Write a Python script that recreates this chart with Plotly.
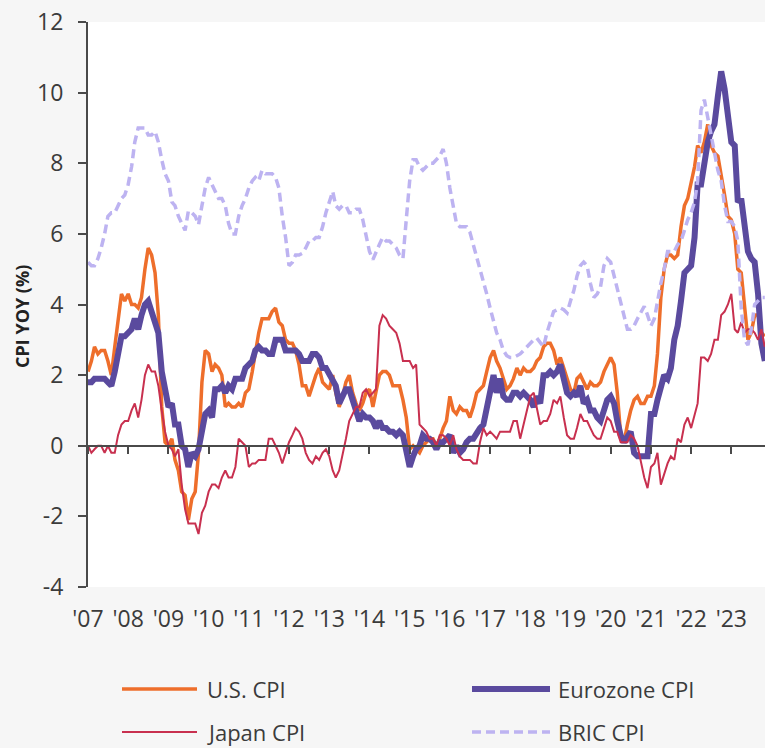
import plotly.graph_objects as go
import pandas as pd

# ---------------- data (monthly, Jan 2007 - Nov 2023) ----------------
us_cpi = [
    2.1, 2.4, 2.8, 2.6, 2.7, 2.7, 2.4, 2.0, 2.8, 3.5, 4.3, 4.1,
    4.3, 4.0, 4.0, 3.9, 4.2, 5.0, 5.6, 5.4, 4.9, 3.7, 1.1, 0.1,
    0.0, 0.2, -0.4, -0.7, -1.3, -1.4, -2.1, -1.5, -1.3, -0.2, 1.8, 2.7,
    2.6, 2.1, 2.3, 2.2, 2.0, 1.1, 1.2, 1.1, 1.1, 1.2, 1.1, 1.5,
    1.6, 2.1, 2.7, 3.2, 3.6, 3.6, 3.6, 3.8, 3.9, 3.5, 3.4, 3.0,
    2.9, 2.9, 2.7, 2.3, 1.7, 1.7, 1.4, 1.7, 2.0, 2.2, 1.8, 1.7,
    1.6, 2.0, 1.5, 1.1, 1.4, 1.8, 2.0, 1.5, 1.2, 1.0, 1.2, 1.5,
    1.6, 1.1, 1.5, 2.0, 2.1, 2.1, 2.0, 1.7, 1.7, 1.7, 1.3, 0.8,
    -0.1, 0.0, -0.1, -0.2, 0.0, 0.1, 0.2, 0.2, 0.0, 0.2, 0.5, 0.7,
    1.4, 1.0, 0.9, 1.1, 1.0, 1.0, 0.8, 1.1, 1.5, 1.6, 1.7, 2.1,
    2.5, 2.7, 2.4, 2.2, 1.9, 1.6, 1.7, 1.9, 2.2, 2.0, 2.2, 2.1,
    2.1, 2.2, 2.4, 2.5, 2.8, 2.9, 2.9, 2.7, 2.3, 2.5, 2.2, 1.9,
    1.6, 1.5, 1.9, 2.0, 1.8, 1.6, 1.8, 1.7, 1.7, 1.8, 2.1, 2.3,
    2.5, 2.3, 1.5, 0.3, 0.1, 0.6, 1.0, 1.3, 1.4, 1.2, 1.2, 1.4,
    1.4, 1.7, 2.6, 4.2, 5.0, 5.4, 5.4, 5.3, 5.4, 6.2, 6.8, 7.0,
    7.5, 7.9, 8.5, 8.3, 8.6, 9.1, 8.5, 8.3, 8.2, 7.7, 7.1, 6.5,
    6.4, 6.0, 5.0, 4.9, 4.0, 3.0, 3.2, 3.7, 3.7, 3.2, 3.1,
]

eurozone_cpi = [
    1.8, 1.8, 1.9, 1.9, 1.9, 1.9, 1.8, 1.7, 2.1, 2.6, 3.1, 3.1,
    3.2, 3.3, 3.6, 3.3, 3.7, 4.0, 4.1, 3.8, 3.6, 3.2, 2.1, 1.6,
    1.1, 1.2, 0.6, 0.6, 0.0, -0.1, -0.6, -0.2, -0.3, -0.1, 0.5, 0.9,
    1.0, 0.8, 1.6, 1.6, 1.7, 1.5, 1.7, 1.6, 1.9, 1.9, 1.9, 2.2,
    2.3, 2.4, 2.7, 2.8, 2.7, 2.7, 2.6, 2.6, 3.0, 3.0, 3.0, 2.7,
    2.7, 2.7, 2.7, 2.6, 2.4, 2.4, 2.4, 2.6, 2.6, 2.5, 2.2, 2.2,
    2.0, 1.8, 1.7, 1.2, 1.4, 1.6, 1.6, 1.3, 1.1, 0.7, 0.9, 0.8,
    0.8, 0.7, 0.5, 0.7, 0.5, 0.5, 0.4, 0.4, 0.3, 0.4, 0.3, -0.2,
    -0.6, -0.3, -0.1, 0.0, 0.3, 0.2, 0.2, 0.1, -0.1, 0.1, 0.1, 0.2,
    0.3, -0.2, 0.0, -0.2, -0.1, 0.1, 0.2, 0.2, 0.4, 0.5, 0.6, 1.1,
    1.7, 2.0, 1.5, 1.9, 1.4, 1.3, 1.3, 1.5, 1.5, 1.4, 1.5, 1.4,
    1.3, 1.1, 1.4, 1.2, 2.0, 2.0, 2.1, 2.0, 2.1, 2.3, 1.9, 1.5,
    1.4, 1.5, 1.4, 1.7, 1.2, 1.3, 1.0, 1.0, 0.8, 0.7, 1.0, 1.3,
    1.4, 1.2, 0.7, 0.3, 0.1, 0.3, 0.4, -0.2, -0.3, -0.3, -0.3, -0.3,
    0.9, 0.9, 1.3, 1.6, 2.0, 1.9, 2.2, 3.0, 3.4, 4.1, 4.9, 5.0,
    5.1, 5.9, 7.4, 7.4, 8.1, 8.6, 8.9, 9.1, 9.9, 10.6, 10.1, 9.2,
    8.6, 8.5, 6.9, 7.0, 6.1, 5.5, 5.3, 5.2, 4.3, 2.9, 2.4,
]

japan_cpi = [
    0.0, -0.2, -0.1, 0.0, 0.0, -0.2, 0.0, -0.2, -0.2, 0.3, 0.6, 0.7,
    0.7, 1.0, 1.2, 0.8, 1.3, 2.0, 2.3, 2.1, 2.1, 1.7, 1.0, 0.4,
    0.0, -0.1, -0.3, -0.1, -1.1, -1.8, -2.2, -2.2, -2.2, -2.5, -1.9, -1.7,
    -1.3, -1.1, -1.1, -1.2, -0.9, -0.7, -0.9, -0.9, -0.6, 0.2, 0.1, 0.0,
    -0.6, -0.5, -0.5, -0.4, -0.4, -0.4, 0.2, 0.2, 0.0, -0.2, -0.5, -0.2,
    0.1, 0.3, 0.5, 0.4, 0.2, -0.2, -0.4, -0.5, -0.3, -0.4, -0.2, -0.1,
    -0.3, -0.7, -0.9, -0.7, -0.3, 0.2, 0.7, 0.9, 1.1, 1.1, 1.5, 1.6,
    1.4, 1.5, 1.6, 3.4, 3.7, 3.6, 3.4, 3.3, 3.2, 2.9, 2.4, 2.4,
    2.4, 2.2, 2.3, 0.6, 0.5, 0.4, 0.2, 0.2, 0.0, 0.3, 0.3, 0.2,
    0.0, 0.3, -0.1, -0.3, -0.4, -0.4, -0.4, -0.5, -0.5, 0.1, 0.5, 0.3,
    0.4, 0.3, 0.2, 0.4, 0.4, 0.4, 0.4, 0.7, 0.7, 0.2, 0.6, 1.0,
    1.4, 1.5, 1.1, 0.6, 0.7, 0.7, 0.9, 1.3, 1.2, 1.4, 0.8, 0.3,
    0.2, 0.2, 0.5, 0.9, 0.7, 0.7, 0.5, 0.3, 0.2, 0.2, 0.5, 0.8,
    0.7, 0.4, 0.4, 0.1, 0.1, 0.1, 0.3, 0.2, 0.0, -0.4, -0.9, -1.2,
    -0.6, -0.5, -0.2, -1.1, -0.8, -0.5, -0.3, -0.4, 0.2, 0.1, 0.6, 0.8,
    0.5, 0.9, 1.2, 2.5, 2.5, 2.4, 2.6, 3.0, 3.0, 3.7, 3.8, 4.0,
    4.3, 3.3, 3.2, 3.5, 3.2, 3.3, 3.3, 3.2, 3.0, 3.3, 2.8,
]

bric_cpi = [
    5.2, 5.1, 5.1, 5.3, 5.6, 6.0, 6.5, 6.6, 6.6, 6.8, 7.0, 7.1,
    7.4, 7.9, 8.6, 9.0, 9.0, 9.0, 8.8, 8.8, 8.9, 8.6, 8.1, 7.7,
    7.5, 6.9, 6.8, 6.5, 6.3, 6.1, 6.65, 6.6, 6.5, 6.26, 6.8, 7.3,
    7.6, 7.4, 7.25, 7.0, 7.0, 6.8, 6.3, 6.0, 6.0, 6.5, 6.8, 7.0,
    7.3, 7.5, 7.6, 7.5, 7.8, 7.7, 7.7, 7.7, 7.6, 7.3, 6.5, 5.9,
    5.1, 5.2, 5.4, 5.4, 5.45, 5.6, 5.8, 5.8, 5.9, 5.9, 6.2, 6.6,
    6.9, 7.2, 6.8, 6.7, 6.8, 6.8, 6.6, 6.6, 6.7, 6.7, 6.4, 6.0,
    5.5, 5.27, 5.5, 5.7, 5.9, 5.8, 5.8, 5.7, 5.6, 5.4, 5.3, 6.4,
    7.5, 8.1, 8.1, 7.9, 7.8, 7.9, 8.0, 8.0, 8.1, 8.2, 8.4, 8.0,
    7.3, 6.8, 6.3, 6.2, 6.2, 6.2, 6.05, 5.7, 5.36, 5.0, 4.7, 4.3,
    3.9, 3.5, 3.2, 3.0, 2.7, 2.55, 2.5, 2.5, 2.55, 2.6, 2.7, 2.8,
    2.9, 3.0, 3.05, 2.9, 2.8, 3.2, 3.5, 3.8, 3.85, 3.9, 3.85, 3.76,
    4.1, 4.4, 4.8, 5.1, 5.2, 5.1, 4.6, 4.2, 4.3, 4.5, 5.1, 5.3,
    5.2, 4.8, 4.4, 4.0, 3.6, 3.3, 3.3, 3.4, 3.6, 3.8, 3.95, 3.7,
    3.4, 3.6, 4.1, 4.6, 5.0, 5.5, 5.5, 5.5, 5.7, 5.8, 6.1, 6.4,
    6.6, 6.9, 7.5, 9.5, 9.8, 9.3, 8.8, 8.4, 7.8, 7.5, 6.8, 6.35,
    6.35, 6.2, 5.8, 3.9, 3.0, 2.85, 3.3, 4.0, 4.1, 4.2, 4.2,
]

start_month = "2007-01-01"
year_ticks = list(range(2007, 2024))
year_labels = ["'" + str(y)[2:] for y in year_ticks]
y_ticks = [-4, -2, 0, 2, 4, 6, 8, 10, 12]
y_labels = [str(v) for v in y_ticks]

series_names = ["U.S. CPI", "Eurozone CPI", "Japan CPI", "BRIC CPI"]

# ---------------- styling ----------------
W, H = 765, 748
ML, MR, MT, MB = 88, 0, 22, 161
PW, PH = W - ML - MR, H - MT - MB
FONT = "Open Sans"
TXT = "#3b3b3b"
AX = "#4a4a4a"

colors = ["#EE6E2B", "#5A4A9E", "#C8304F", "#BDB3F1"]
widths = [3.5, 6, 2, 3.5]
dashes = ["solid", "solid", "solid", "9px,5px"]

dates = pd.date_range(start_month, periods=len(us_cpi), freq="MS")
values = [us_cpi, eurozone_cpi, japan_cpi, bric_cpi]

fig = go.Figure()
for name, vals, c, w, d in zip(series_names, values, colors, widths, dashes):
    fig.add_trace(go.Scatter(
        x=dates, y=vals, mode="lines", name=name,
        line=dict(color=c, width=w, dash=d),
        showlegend=False,
    ))

xrange = ["2007-01-01", "2023-11-03"]
tickdates = [f"{y}-01-01" for y in year_ticks]

# dummy trace for the zero-line axis
fig.add_trace(go.Scatter(x=[dates[0]], y=[None], xaxis="x2", yaxis="y",
                         mode="lines", showlegend=False, hoverinfo="skip"))

fig.update_layout(
    width=W, height=H,
    margin=dict(l=ML, r=MR, t=MT, b=MB),
    paper_bgcolor="#f6f6f6",
    plot_bgcolor="#ffffff",
    font=dict(family=FONT, color=TXT),
    xaxis=dict(
        type="date", range=xrange,
        tickvals=tickdates, ticktext=year_labels,
        showgrid=False, zeroline=False, showline=False, ticks="",
        tickfont=dict(size=23, color=TXT, family=FONT),
        ticklabelstandoff=16,
    ),
    xaxis2=dict(
        type="date", range=xrange, overlaying="x", anchor="free", position=0.25,
        tickvals=tickdates, showticklabels=False,
        showgrid=False, zeroline=False, showline=True,
        linecolor=AX, linewidth=2, ticks="outside", ticklen=7, tickwidth=2, tickcolor=AX,
    ),
    yaxis=dict(
        range=[-4, 12], tickvals=y_ticks, ticktext=y_labels,
        showgrid=False, zeroline=False, showline=True,
        linecolor=AX, linewidth=2, ticks="outside", ticklen=8, tickwidth=2, tickcolor=AX,
        tickfont=dict(size=23, color=TXT, family=FONT),
        ticklabelstandoff=10,
    ),
)

def px(x):
    return (x - ML) / PW

def py(y):
    return (H - MB - y) / PH

# y-axis title
fig.add_annotation(
    x=px(22), y=py(317), xref="paper", yref="paper",
    text="<b>CPI YOY (%)</b>", textangle=-90, showarrow=False,
    font=dict(size=18, color="#222222", family=FONT),
    xanchor="center", yanchor="middle",
)

# manual legend
legend_rows = [689, 732]
legend_cols = [(122, 197, 205), (472, 550, 556)]
for i, name in enumerate(series_names):
    row = legend_rows[i // 2]
    x0, x1, xt = legend_cols[i % 2]
    fig.add_shape(
        type="line", xref="paper", yref="paper",
        x0=px(x0), x1=px(x1), y0=py(row), y1=py(row),
        line=dict(color=colors[i], width=widths[i], dash=dashes[i]),
    )
    fig.add_annotation(
        x=px(xt), y=py(row), xref="paper", yref="paper",
        text=name, showarrow=False, xanchor="left", yanchor="middle",
        font=dict(size=22, color=TXT, family=FONT),
    )

fig.write_html("out.html", config={"displayModeBar": False},
               post_script="document.body.style.margin='0px';")
